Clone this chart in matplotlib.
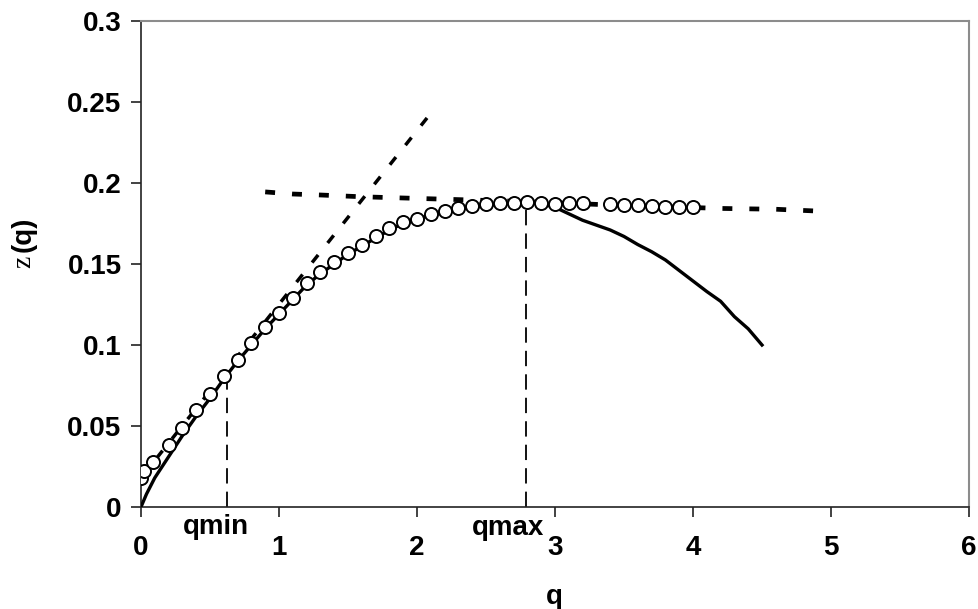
import matplotlib.pyplot as plt

# circles (measured points)
q_pts = [0.0, 0.025, 0.09, 0.2, 0.3, 0.4, 0.5, 0.6, 0.7, 0.8, 0.9, 1.0, 1.1, 1.2,
         1.3, 1.4, 1.5, 1.6, 1.7, 1.8, 1.9, 2.0, 2.1, 2.2, 2.3, 2.4, 2.5, 2.6, 2.7,
         2.8, 2.9, 3.0, 3.1, 3.2, 3.4, 3.5, 3.6, 3.7, 3.8, 3.9, 4.0]
z_pts = [0.018, 0.022, 0.028, 0.038, 0.049, 0.060, 0.070, 0.081, 0.091, 0.101, 0.111,
         0.120, 0.129, 0.138, 0.145, 0.151, 0.157, 0.162, 0.167, 0.172, 0.176, 0.178,
         0.181, 0.183, 0.1846, 0.1856, 0.1869, 0.1878, 0.1878, 0.188, 0.1877, 0.1873,
         0.1877, 0.1877, 0.1869, 0.1866, 0.1866, 0.1856, 0.1854, 0.1854, 0.1854]

# solid curve
q_solid = [0.0, 0.04, 0.1, 0.2, 0.3, 0.4, 0.5, 0.6, 0.7, 0.8, 0.9, 1.0, 1.1, 1.2, 1.3,
           1.4, 1.5, 1.6, 1.7, 1.8, 1.9, 2.0, 2.1, 2.2, 2.3, 2.4, 2.5, 2.6, 2.7, 2.8,
           2.9, 3.0, 3.1, 3.2, 3.3, 3.4, 3.5, 3.6, 3.7, 3.8, 3.9, 4.0, 4.1, 4.2, 4.3,
           4.4, 4.5]
z_solid = [0.0, 0.008, 0.018, 0.031, 0.044, 0.056, 0.067, 0.079, 0.090, 0.100, 0.110,
           0.119, 0.128, 0.137, 0.144, 0.150, 0.156, 0.161, 0.166, 0.171, 0.175, 0.178,
           0.180, 0.182, 0.184, 0.185, 0.186, 0.187, 0.1875, 0.1878, 0.1872, 0.185,
           0.181, 0.177, 0.174, 0.171, 0.167, 0.162, 0.1576, 0.1525, 0.146, 0.1395,
           0.133, 0.127, 0.1175, 0.110, 0.100]

# small-q tangent (steep dashed)
q_lin = [0.0, 2.09]
z_lin = [0.018, 0.242]

# plateau (horizontal dashed)
q_flat = [0.9, 1.1, 1.3, 1.6, 2.2, 2.8, 3.3, 4.2, 4.6, 4.95]
z_flat = [0.1945, 0.1932, 0.1926, 0.1915, 0.190, 0.1885, 0.1868, 0.1843, 0.1838, 0.1825]

qmin, zmin = 0.62, 0.080
qmax, zmax = 2.79, 0.188

fig = plt.figure(figsize=(9.79, 6.09), dpi=100)
ax = fig.add_axes([0.144, 0.1675, 0.8458, 0.798])

ax.plot(q_solid, z_solid, color='black', lw=2.4, zorder=3)
ax.plot(q_lin, z_lin, color='black', lw=2.5, dashes=(2.8, 4.4), zorder=2)
ax.plot(q_flat, z_flat, color='black', lw=3.4, dashes=(2.1, 3.6), zorder=2)
ax.plot(q_pts, z_pts, 'o', ls='none', ms=9.4, mfc='white', mec='black', mew=1.4, zorder=4)
ax.plot([qmin, qmin], [0, zmin], color='black', lw=1.3, dashes=(8.5, 4.5), zorder=2)
ax.plot([qmax, qmax], [0, zmax], color='black', lw=1.3, dashes=(8.5, 4.5), zorder=2)

ax.set_xlim(0, 6)
ax.set_ylim(0, 0.3)
ax.set_xticks([0, 1, 2, 3, 4, 5, 6])
ax.set_xticklabels(['0', '1', '2', '3', '4', '5', '6'])
ax.set_yticks([0, 0.05, 0.1, 0.15, 0.2, 0.25, 0.3])
ax.set_yticklabels(['0', '0.05', '0.1', '0.15', '0.2', '0.25', '0.3'])

for s in ['top', 'right']:
    ax.spines[s].set_color('#8c8c8c')
    ax.spines[s].set_linewidth(1.5)
for s in ['left', 'bottom']:
    ax.spines[s].set_color('#222222')
    ax.spines[s].set_linewidth(1.2)

ax.tick_params(direction='out', length=7, width=1.2, color='#222222', pad=13,
               labelsize=20)
ax.tick_params(axis='y', pad=7)
for lab in ax.get_xticklabels() + ax.get_yticklabels():
    lab.set_fontweight('bold')
    lab.set_fontfamily('Liberation Sans')

ax.text(0.543, -0.0125, 'qmin', ha='center', va='center', fontsize=20,
        fontweight='bold', family='Liberation Sans', clip_on=False)
ax.text(2.66, -0.013, 'qmax', ha='center', va='center', fontsize=20,
        fontweight='bold', family='Liberation Sans', clip_on=False)

fig.text(554 / 979, 1 - 597 / 609, 'q', ha='center', va='center', fontsize=20,
         fontweight='bold', family='Liberation Sans')
fig.text(24 / 979, 1 - 262 / 609, 'z', ha='center', va='center', rotation=90,
         fontsize=20, family='Liberation Serif')
fig.text(24 / 979, 1 - 234 / 609, '(q)', ha='center', va='center', rotation=90,
         fontsize=20, fontweight='bold', family='Liberation Sans')

fig.savefig('out.png', dpi=100)
